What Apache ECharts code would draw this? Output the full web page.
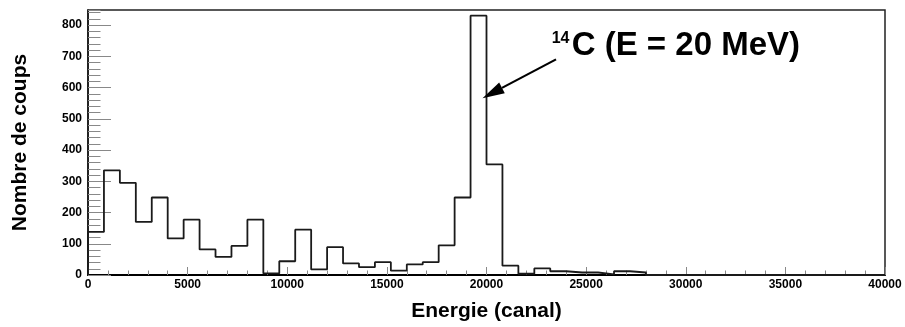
<!DOCTYPE html>
<html>
<head>
<meta charset="utf-8">
<script src="https://cdn.jsdelivr.net/npm/echarts@6/dist/echarts.min.js"></script>
<style>
html,body{margin:0;padding:0;background:#fff;}
#chart{width:905px;height:327px;}
</style>
</head>
<body>
<div id="chart"></div>
<script>
// Histogram: 50 bins of 800 channels each, from 0 to 40000
const binWidth = 800;
const counts = [
  138, 335, 295, 170, 248, 117, 177, 82, 58, 93,
  177, 5, 44, 145, 18, 89, 37, 25, 41, 14,
  34, 41, 95, 248, 830, 354, 30, 4, 21, 12,
  8, 8, 2, 12, 8, 0, 0, 0, 0, 0,
  0, 0, 0, 0, 0, 0, 0, 0, 0, 0
];
const xTickLabels = ['0','5000','10000','15000','20000','25000','30000','35000','40000'];
const yTickLabels = ['0','100','200','300','400','500','600','700','800'];
const xTitle = 'Energie (canal)';
const yTitle = 'Nombre de coups';
const annotSup = '14';
const annotMain = 'C (E = 20 MeV)';
const arrowFrom = [23490, 690];
const arrowTo = [19800, 566];

const histData = [[0, 0]];
counts.forEach((c, i) => histData.push([i * binWidth, c]));
histData.push([counts.length * binWidth, counts[counts.length - 1]]);

const FONT = '"Liberation Sans", Arial, sans-serif';
const chart = echarts.init(document.getElementById('chart'), null, {renderer: 'canvas'});
const option = {
  animation: false,
  backgroundColor: '#fff',
  grid: {left: 88, top: 10, right: 20, bottom: 51.5, show: true, borderColor: '#222', borderWidth: 1.5},
  xAxis: {
    type: 'value', min: 0, max: 40000, interval: 5000,
    axisLine: {show: true, onZero: false, lineStyle: {color: '#000', width: 2}},
    axisTick: {show: true, inside: true, length: 8, lineStyle: {color: '#888', width: 1}},
    minorTick: {show: true, splitNumber: 5, length: 4.5, lineStyle: {color: '#888', width: 1}},
    splitLine: {show: false},
    axisLabel: {
      show: true, margin: 4, color: '#000', fontFamily: FONT, fontWeight: 'bold', fontSize: 12,
      showMinLabel: true, showMaxLabel: true,
      formatter: v => { const s = String(v); return xTickLabels.includes(s) ? s : ''; }
    },
    name: xTitle, nameLocation: 'middle', nameGap: 26,
    nameTextStyle: {color: '#000', fontFamily: FONT, fontWeight: 'bold', fontSize: 21}
  },
  yAxis: [{
    type: 'value', min: 0, max: 848, interval: 100,
    axisLine: {show: true, onZero: false, lineStyle: {color: '#111', width: 1.5}},
    axisTick: {show: true, inside: true, length: 23, lineStyle: {color: '#888', width: 1}},
    splitLine: {show: false},
    axisLabel: {
      show: true, margin: 6, color: '#000', fontFamily: FONT, fontWeight: 'bold', fontSize: 12,
      showMaxLabel: false,
      formatter: v => { const s = String(v); return yTickLabels.includes(s) ? s : ''; }
    },
    name: yTitle, nameLocation: 'middle', nameGap: 57, nameRotate: 90,
    nameTextStyle: {color: '#000', fontFamily: FONT, fontWeight: 'bold', fontSize: 21}
  }, {
    type: 'value', min: 0, max: 848, interval: 20, position: 'left',
    axisLine: {show: false},
    axisTick: {show: true, inside: true, length: 12.5, lineStyle: {color: '#888', width: 1}},
    splitLine: {show: false},
    axisLabel: {show: false}
  }],
  series: [{
    type: 'line', step: 'end', data: histData, yAxisIndex: 0,
    symbol: 'none', lineStyle: {color: '#1a1a1a', width: 1.8}, z: 3
  }]
};
chart.setOption(option);

// annotation: arrow anchored at data coordinates
const p0 = chart.convertToPixel({gridIndex: 0}, arrowFrom);
const p1 = chart.convertToPixel({gridIndex: 0}, arrowTo);
const dx = p1[0] - p0[0], dy = p1[1] - p0[1];
const L = Math.sqrt(dx * dx + dy * dy);
const ux = dx / L, uy = dy / L;
const headLen = 22, headW = 6;
const bx = p1[0] - ux * headLen, by = p1[1] - uy * headLen;
chart.setOption({
  graphic: [
    {type: 'line', shape: {x1: p0[0], y1: p0[1], x2: bx, y2: by}, style: {stroke: '#000', lineWidth: 2.2}, z: 10},
    {type: 'polygon', shape: {points: [[p1[0], p1[1]], [bx - uy * headW, by + ux * headW], [bx + uy * headW, by - ux * headW]]},
      style: {fill: '#000'}, z: 10},
    {type: 'text', x: 551.7, y: 38.5, style: {text: annotSup, fill: '#000', font: 'bold 16px ' + FONT, verticalAlign: 'middle', align: 'left'}, z: 10},
    {type: 'text', x: 571.7, y: 46, style: {text: annotMain, fill: '#000', font: 'bold 33px ' + FONT, verticalAlign: 'middle', align: 'left'}, z: 10}
  ]
});
</script>
</body>
</html>
